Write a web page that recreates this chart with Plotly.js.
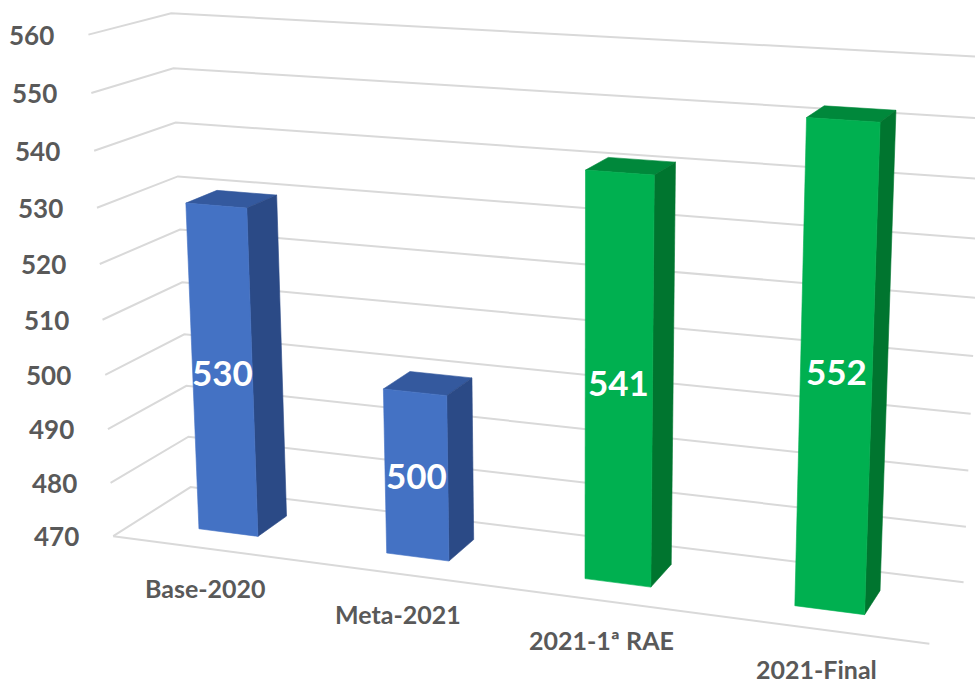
<!DOCTYPE html>
<html>
<head>
<meta charset="utf-8">
<script src="https://cdn.plot.ly/plotly-3.0.1.min.js"></script>
<style>html,body{margin:0;padding:0;background:#fff;}#chart{width:975px;height:685px;}</style>
</head>
<body>
<div id="chart"></div>
<script>
// ---------------- Data ----------------
var categories = ["Base-2020", "Meta-2021", "2021-1ª RAE", "2021-Final"];
var values = [530, 500, 541, 552];
var tickValues = [470, 480, 490, 500, 510, 520, 530, 540, 550, 560];
var axisMin = 470, axisMax = 560;

// ---------------- Styles ----------------
var frontColors = ["#4472C4", "#4472C4", "#00B050", "#00B050"];
var sideColors  = ["#2B4A86", "#2B4A86", "#00752F", "#00752F"];
var topColors   = ["#34599E", "#34599E", "#00883B", "#00883B"];
var gridColor = "#d9d9d9";
var textColor = "#595959";
var fontFamily = "Lato, 'Open Sans', sans-serif";

// 3D frame: category axis 0..N, depth 0..1 (front..back), value axis normalised 0..1.
// Perspective camera calibrated on the wall/floor frame (world -> screen px).
var frame = {
  world: [[0,0,1],[0,0,0.8889],[0,0,0.7778],[0,0,0.6667],[0,0,0.2222],[0,0,0.1111],[0,0,0],
          [0,1,1],[0,1,0.8889],[0,1,0.6667],[0,1,0.1111],[0,1,0],
          [4,0,0],
          [4,1,0],[4,1,0.1111],[4,1,0.2222],[4,1,0.3333],[4,1,0.4444]],
  screen: [[88,35],[91,93],[95,151],[97,208],[108,429],[110,483],[113,536],
           [172,13],[173,68],[177,176],[190,437],[190,487],
           [930,643],
           [963,583],[966,527],[968,471],[971,413],[973,356]]
};
var bar = {halfWidth: 0.16, y0: 0.3, y1: 0.7};

function solveCamera(world, screen) {
  var rows = [], rhs = [];
  for (var n = 0; n < world.length; n++) {
    var X = world[n][0], Y = world[n][1], Z = world[n][2];
    var u = screen[n][0], v = screen[n][1];
    rows.push([X, Y, Z, 1, 0, 0, 0, 0, -u * X, -u * Y, -u * Z]); rhs.push(u);
    rows.push([0, 0, 0, 0, X, Y, Z, 1, -v * X, -v * Y, -v * Z]); rhs.push(v);
  }
  var m = 11, M = [];
  for (var a = 0; a < m; a++) {
    M.push([]);
    for (var b = 0; b <= m; b++) {
      var s = 0;
      for (var r = 0; r < rows.length; r++) s += rows[r][a] * (b < m ? rows[r][b] : rhs[r]);
      M[a].push(s);
    }
  }
  for (var c = 0; c < m; c++) {
    var piv = c;
    for (var r2 = c + 1; r2 < m; r2++) if (Math.abs(M[r2][c]) > Math.abs(M[piv][c])) piv = r2;
    var tmp = M[c]; M[c] = M[piv]; M[piv] = tmp;
    for (var r3 = 0; r3 < m; r3++) {
      if (r3 === c) continue;
      var f = M[r3][c] / M[c][c];
      for (var k = c; k <= m; k++) M[r3][k] -= f * M[c][k];
    }
  }
  var p = [];
  for (var q = 0; q < m; q++) p.push(M[q][m] / M[q][q]);
  return p;
}
var P = solveCamera(frame.world, frame.screen);

function project(cx, depth, val) {
  var Z = (val - axisMin) / (axisMax - axisMin);
  var w = P[8] * cx + P[9] * depth + P[10] * Z + 1;
  return [(P[0] * cx + P[1] * depth + P[2] * Z + P[3]) / w,
          (P[4] * cx + P[5] * depth + P[6] * Z + P[7]) / w];
}
function polyTrace(pts, color) {
  var xs = [], ys = [];
  pts.forEach(function (p) { var s = project(p[0], p[1], p[2]); xs.push(s[0]); ys.push(s[1]); });
  return {type: "scatter", mode: "lines", x: xs, y: ys, fill: "toself", fillcolor: color,
          line: {color: color, width: 0.6}, hoverinfo: "skip", showlegend: false};
}

var N = categories.length;
var traces = [];
var annotations = [];

// Gridlines on the left wall and the back wall
var gx = [], gy = [];
tickValues.forEach(function (t) {
  var a = project(0, 0, t), b = project(0, 1, t), c = project(N, 1, t);
  gx.push(a[0], b[0], c[0], null); gy.push(a[1], b[1], c[1], null);
});
// Floor front edge
var f0 = project(0, 0, axisMin), f1 = project(N, 0, axisMin);
gx.push(f0[0], f1[0], null); gy.push(f0[1], f1[1], null);
traces.push({type: "scatter", mode: "lines", x: gx, y: gy, line: {color: gridColor, width: 2},
             hoverinfo: "skip", showlegend: false, connectgaps: false});

// Bars
for (var i = 0; i < N; i++) {
  var xc = i + 0.5, x0 = xc - bar.halfWidth, x1 = xc + bar.halfWidth;
  var y0 = bar.y0, y1 = bar.y1, z0 = axisMin, z1 = values[i];
  traces.push(polyTrace([[x0,y0,z1],[x1,y0,z1],[x1,y1,z1],[x0,y1,z1],[x0,y0,z1]], topColors[i]));
  traces.push(polyTrace([[x1,y0,z0],[x1,y1,z0],[x1,y1,z1],[x1,y0,z1],[x1,y0,z0]], sideColors[i]));
  traces.push(polyTrace([[x0,y0,z0],[x1,y0,z0],[x1,y0,z1],[x0,y0,z1],[x0,y0,z0]], frontColors[i]));
  var lc = project(xc, y0, (z0 + z1) / 2);
  annotations.push({x: lc[0], y: lc[1], xref: "x", yref: "y", text: "<b>" + values[i] + "</b>",
    showarrow: false, xanchor: "center", yanchor: "middle",
    font: {family: fontFamily, size: 35, color: "#ffffff"}});
  var cl = project(xc, 0, axisMin);
  annotations.push({x: cl[0], y: cl[1], xref: "x", yref: "y", text: "<b>" + categories[i] + "</b>",
    showarrow: false, xanchor: "center", yanchor: "middle", yshift: -40,
    font: {family: fontFamily, size: 25, color: textColor}});
}

// Value axis tick labels
tickValues.forEach(function (t) {
  var a = project(0, 0, t);
  annotations.push({x: a[0], y: a[1], xref: "x", yref: "y", text: "<b>" + t + "</b>",
    showarrow: false, xanchor: "right", yanchor: "middle", xshift: -32,
    font: {family: fontFamily, size: 26, color: textColor}});
});

var layout = {
  width: 975, height: 685,
  margin: {l: 0, r: 0, t: 0, b: 0},
  paper_bgcolor: "#ffffff", plot_bgcolor: "#ffffff",
  showlegend: false,
  xaxis: {range: [0, 975], visible: false, fixedrange: true},
  yaxis: {range: [685, 0], visible: false, fixedrange: true},
  annotations: annotations
};

Plotly.newPlot("chart", traces, layout, {displayModeBar: false, staticPlot: true});
</script>
</body>
</html>
